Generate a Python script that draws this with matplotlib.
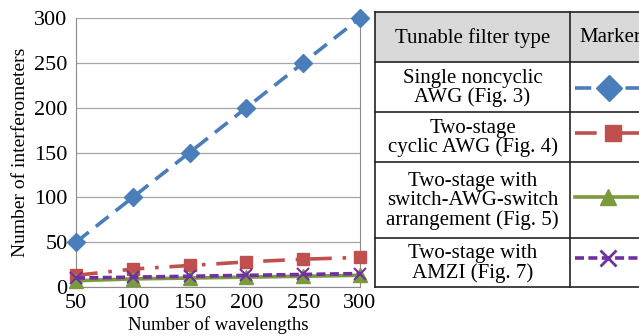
import matplotlib
matplotlib.use("Agg")
import matplotlib.pyplot as plt
from matplotlib.patches import Rectangle

plt.rcParams['font.family'] = ['Liberation Serif', 'DejaVu Serif']

wavelengths = [50, 100, 150, 200, 250, 300]
single_noncyclic = [50, 100, 150, 200, 250, 300]
two_stage_cyclic = [13, 20, 24, 28, 31, 33]
switch_awg_switch = [7, 9, 10, 11, 12, 13]
amzi = [10, 11, 12, 13, 14, 15]

labels = ["Single noncyclic\nAWG (Fig. 3)",
          "Two-stage\ncyclic AWG (Fig. 4)",
          "Two-stage with\nswitch-AWG-switch\narrangement (Fig. 5)",
          "Two-stage with\nAMZI (Fig. 7)"]
header = ["Tunable filter type", "Marker"]

c_blue = '#4a7ebb'
c_red = '#c0504d'
c_green = '#7a9a3c'
c_purple = '#7030a0'

styles = [
    dict(color=c_blue, ls=(0, (4.5, 2.5)), marker='D', ms=9.5, lw=2.6),
    dict(color=c_red, ls=(0, (6, 3, 1, 3)), marker='s', ms=9, lw=2.6),
    dict(color=c_green, ls='-', marker='^', ms=9.5, lw=2.6),
    dict(color=c_purple, ls=(0, (2.5, 1.2)), marker='x', ms=9, lw=2.6, mew=1.5),
]
table_ms = [13, 11, 12, 12]
series = [single_noncyclic, two_stage_cyclic, switch_awg_switch, amzi]

fig = plt.figure(figsize=(6.39, 3.36), dpi=100)
ax = fig.add_axes([76/639, 1-287/336, (360-76)/639, (287-18)/336])

for s, st in zip(series, styles):
    ax.plot(wavelengths, s, clip_on=False, zorder=3, **st)

ax.set_xlim(50, 300)
ax.set_ylim(0, 300)
ax.set_xticks(wavelengths)
ax.set_yticks(range(0, 301, 50))
ax.yaxis.grid(True, color='#a6a6a6', lw=0.9)
ax.set_axisbelow(True)
for sp in ['left', 'right', 'bottom']:
    ax.spines[sp].set_color('#8c8c8c')
ax.spines['top'].set_visible(False)
ax.tick_params(length=0, labelsize=16)
ax.tick_params(axis='y', pad=6)
ax.tick_params(axis='x', pad=5)
ax.set_xlabel("Number of wavelengths", fontsize=13.5, labelpad=2)
ax.set_ylabel("Number of interferometers", fontsize=14, labelpad=4)

# table overlay in pixel coordinates
tax = fig.add_axes([0, 0, 1, 1])
tax.set_xlim(0, 639)
tax.set_ylim(336, 0)
tax.axis('off')

x0, x1, x2 = 375, 570, 700
rows_y = [12, 62, 112, 162, 238, 287]
tax.add_patch(Rectangle((x0, rows_y[0]), x2 - x0, rows_y[1] - rows_y[0],
                        facecolor='#d9d9d9', edgecolor='none'))
for y in rows_y:
    tax.plot([x0, x2], [y, y], color='#222222', lw=1.2)
tax.plot([x0, x0], [rows_y[0], rows_y[-1]], color='#222222', lw=1.2)
tax.plot([x1, x1], [rows_y[0], rows_y[-1]], color='#222222', lw=1.2)

tax.text((x0 + x1) / 2, (rows_y[0] + rows_y[1]) / 2 + 1, header[0],
         ha='center', va='center', fontsize=15)
tax.text(579, (rows_y[0] + rows_y[1]) / 2 + 1, header[1],
         ha='left', va='center', fontsize=15)

sample_y = [88, 133, 197, 258]
marker_x = [609, 613, 608, 608]
for i, (lab, st) in enumerate(zip(labels, styles)):
    yc = (rows_y[i + 1] + rows_y[i + 2]) / 2 + 1
    tax.text((x0 + x1) / 2, yc, lab, ha='center', va='center',
             fontsize=15, linespacing=1.0)
    line_kw = {k: v for k, v in st.items() if k not in ('ms', 'mew', 'marker')}
    tax.plot([575, 700], [sample_y[i]] * 2, **line_kw)
    tax.plot([marker_x[i]], [sample_y[i]], marker=st['marker'], color=st['color'],
             ms=table_ms[i], mew=2 if st['marker'] == 'x' else 1, ls='none')

fig.savefig("out.png", dpi=100)
